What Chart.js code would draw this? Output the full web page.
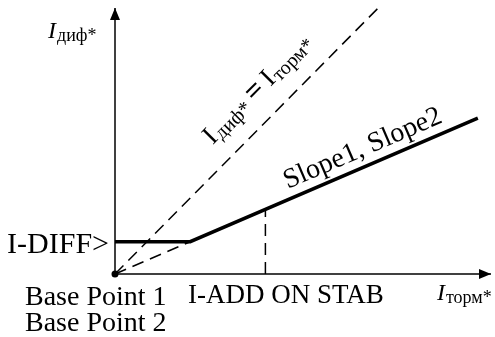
<!DOCTYPE html>
<html>
<head>
<meta charset="utf-8">
<script src="https://cdn.jsdelivr.net/npm/chart.js@4"></script>
<style>
  html, body { margin: 0; padding: 0; background: #ffffff; }
  #wrap { width: 495px; height: 337px; }
</style>
</head>
<body>
<div id="wrap"><canvas id="diffChart" width="495" height="337"></canvas></div>
<script>
// Characteristic points (x = I торм*, y = I диф*, per unit)
const tripX = [0, 2, 9.65];          // restraint current
const tripY = [0.85, 0.85, 4.1];     // differential current
const idealX = [0, 7];               // I диф* = I торм*
const idealY = [0, 7];
const baseX = [0, 2];                // slope line back to base point
const baseY = [0, 0.85];
const addOnX = [4, 4];               // I-ADD ON STAB
const addOnY = [0, 1.7];
const axisMaxX = 10;
const axisMaxY = 7;

function toPoints(xs, ys) {
    return xs.map((x, i) => ({ x: x, y: ys[i] }));
}

const serif = '"Liberation Serif", "Times New Roman", serif';
const dash = [12, 7];

// draws "I" with a subscript, returns the width used
function drawIndexLabel(ctx, x, y, sub, size, italic) {
    ctx.font = (italic ? 'italic ' : '') + size + 'px ' + serif;
    ctx.fillText('I', x, y);
    const w = ctx.measureText('I').width;
    ctx.font = Math.round(size * 0.75) + 'px ' + serif;
    ctx.fillText(sub, x + w + 1, y + 3);
    return w + 1 + ctx.measureText(sub).width;
}

function arrowHead(ctx, x, y, angle) {
    ctx.save();
    ctx.translate(x, y);
    ctx.rotate(angle);
    ctx.beginPath();
    ctx.moveTo(0, 0);
    ctx.lineTo(-12, -5);
    ctx.lineTo(-12, 5);
    ctx.closePath();
    ctx.fill();
    ctx.restore();
}

const labelsPlugin = {
    id: 'labels',
    afterDraw(chart) {
        const ctx = chart.ctx;
        const xs = chart.scales.x, ys = chart.scales.y;
        const ox = xs.getPixelForValue(0), oy = ys.getPixelForValue(0);
        ctx.save();
        ctx.fillStyle = '#000';
        ctx.textBaseline = 'alphabetic';

        // arrows
        arrowHead(ctx, xs.getPixelForValue(axisMaxX), oy, 0);
        arrowHead(ctx, ox, ys.getPixelForValue(axisMaxY), -Math.PI / 2);

        // axis titles
        drawIndexLabel(ctx, 48, 38, 'диф*', 24, true);
        drawIndexLabel(ctx, 437, 300, 'торм*', 24, true);

        // I-DIFF> level
        ctx.font = '30px ' + serif;
        ctx.textAlign = 'right';
        ctx.fillText('I-DIFF>', ox - 6, ys.getPixelForValue(tripY[0]) + 11);

        ctx.textAlign = 'left';
        ctx.font = '28px ' + serif;
        ctx.fillText('Base Point 1', 25, 305);
        ctx.fillText('Base Point 2', 25, 331);
        ctx.font = '27px ' + serif;
        ctx.fillText('I-ADD ON STAB', 188, 303);

        // slope label along the characteristic
        const p1 = { x: xs.getPixelForValue(tripX[1]), y: ys.getPixelForValue(tripY[1]) };
        const p2 = { x: xs.getPixelForValue(tripX[2]), y: ys.getPixelForValue(tripY[2]) };
        const slopeAng = Math.atan2(p2.y - p1.y, p2.x - p1.x);
        ctx.save();
        ctx.translate(xs.getPixelForValue(4.7), ys.getPixelForValue(4.7 * 0.425));
        ctx.rotate(slopeAng);
        ctx.font = '28px ' + serif;
        ctx.fillText('Slope1, Slope2', 0, -10);
        ctx.restore();

        // I диф* = I торм* along the 45 degree line
        const q1 = { x: xs.getPixelForValue(idealX[0]), y: ys.getPixelForValue(idealY[0]) };
        const q2 = { x: xs.getPixelForValue(idealX[1]), y: ys.getPixelForValue(idealY[1]) };
        ctx.save();
        ctx.translate(xs.getPixelForValue(3.0), ys.getPixelForValue(3.0));
        ctx.rotate(Math.atan2(q2.y - q1.y, q2.x - q1.x));
        let w = drawIndexLabel(ctx, 0, -21, 'диф*', 27, false);
        ctx.font = 'bold 30px ' + serif;
        ctx.fillText(' = ', w - 2, -21);
        w += ctx.measureText(' = ').width - 4;
        drawIndexLabel(ctx, w, -21, 'торм*', 27, false);
        ctx.restore();

        ctx.restore();
    }
};

const ctx = document.getElementById('diffChart').getContext('2d');
new Chart(ctx, {
    type: 'scatter',
    data: {
        datasets: [
            { data: toPoints([0, axisMaxX], [0, 0]), showLine: true, borderColor: '#000', borderWidth: 1.5, pointRadius: 0, clip: false },
            { data: toPoints([0, 0], [0, axisMaxY]), showLine: true, borderColor: '#000', borderWidth: 1.5, pointRadius: 0, clip: false },
            { data: toPoints(idealX, idealY), showLine: true, borderColor: '#000', borderWidth: 1.5, borderDash: dash, pointRadius: 0, clip: false },
            { data: toPoints(baseX, baseY), showLine: true, borderColor: '#000', borderWidth: 1.5, borderDash: dash, pointRadius: 0, clip: false },
            { data: toPoints(addOnX, addOnY), showLine: true, borderColor: '#000', borderWidth: 1.5, borderDash: dash, pointRadius: 0, clip: false },
            { data: toPoints(tripX, tripY), showLine: true, borderColor: '#000', borderWidth: 3.5, pointRadius: 0, clip: false, borderCapStyle: 'butt' },
            { data: [{ x: 0, y: 0 }], pointRadius: 3.5, pointBackgroundColor: '#000', pointBorderWidth: 0, clip: false }
        ]
    },
    options: {
        responsive: false,
        animation: false,
        layout: { padding: { left: 115, top: 8, right: 0, bottom: 63 } },
        plugins: { legend: { display: false }, tooltip: { enabled: false } },
        scales: {
            x: { type: 'linear', min: 0, max: axisMaxX, display: false },
            y: { type: 'linear', min: 0, max: axisMaxY, display: false }
        }
    },
    plugins: [labelsPlugin]
});
</script>
</body>
</html>
